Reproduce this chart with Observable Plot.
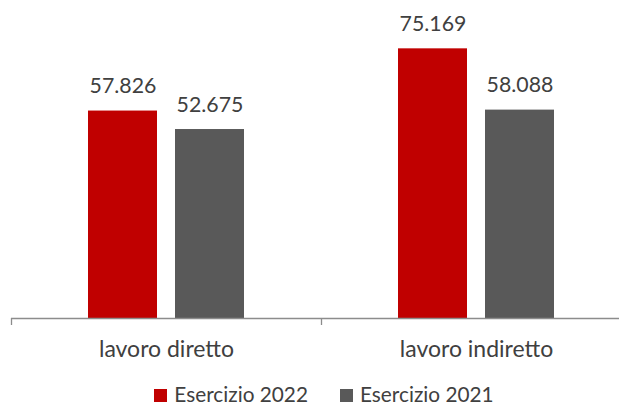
<!DOCTYPE html>
<html>
<head>
<meta charset="utf-8">
<script src="https://cdn.jsdelivr.net/npm/d3@7"></script>
<script src="https://cdn.jsdelivr.net/npm/@observablehq/plot@0.6"></script>
<style>
  html, body { margin: 0; padding: 0; background: #fff; overflow: hidden; }
  #chart { width: 619px; height: 375px; }
  #legend { display: flex; justify-content: center; align-items: center; height: 20px; line-height: 20px; margin-top: 9px; padding-left: 29px;
    width: 619px; box-sizing: border-box;
    font-family: Lato, "Noto Sans", sans-serif; font-size: 20.8px; color: #404040; }
  .item { display: flex; align-items: center; margin: 0 16px; }
  .sw { width: 13px; height: 13px; margin-right: 7px; margin-top: 2px; }
</style>
</head>
<body>
<div id="chart"></div>
<script>
const categories = ["lavoro diretto", "lavoro indiretto"];
const series = ["Esercizio 2022", "Esercizio 2021"];
const values2022 = [57826, 75169];
const values2021 = [52675, 58088];
const colors = ["#C00000", "#595959"];

const data = [];
categories.forEach((c, i) => {
  data.push({cat: c, ser: series[0], value: values2022[i]});
  data.push({cat: c, ser: series[1], value: values2021[i]});
});

const itFormat = d3.formatLocale({decimal: ",", thousands: ".", grouping: [3], currency: ["", "€"]}).format(",d");

const W = 619, H = 375;
const fxRange = [11, 631];
const bandW = (fxRange[1] - fxRange[0]) / categories.length;

const chart = Plot.plot({
  width: W,
  height: H,
  marginTop: 31,
  marginBottom: 57,
  marginLeft: 11,
  marginRight: 0,
  style: {fontFamily: "Lato, 'Noto Sans', sans-serif", fontSize: "21px", color: "#404040", background: "#fff"},
  fx: {domain: categories, range: fxRange, padding: 0, label: null, axis: null},
  x: {domain: series, paddingInner: 0.207, paddingOuter: 0.885, align: 0.5, axis: null},
  y: {domain: [0, 80000], axis: null},
  color: {domain: series, range: colors},
  marks: [
    Plot.barY(data, {fx: "cat", x: "ser", y: "value", fill: "ser"}),
    Plot.ruleY([0], {stroke: "#8c8c8c", strokeWidth: 1.3}),
    Plot.text(data, {fx: "cat", x: "ser", y: "value", text: d => itFormat(d.value), dy: -18, lineAnchor: "bottom", fill: "#404040", fontSize: 21.3}),
    Plot.axisFx({anchor: "bottom", tickSize: 7, tickFormat: () => "", dx: -bandW / 2, stroke: "#8c8c8c", strokeWidth: 1.3}),
    Plot.axisFx({anchor: "bottom", tickSize: 0, tickPadding: 22, label: null, fill: "#404040", fontSize: 23})
  ]
});
document.getElementById("chart").appendChild(chart);

const legend = document.createElement("div");
legend.id = "legend";
series.forEach((s, i) => {
  const it = document.createElement("div");
  it.className = "item";
  const sw = document.createElement("div");
  sw.className = "sw";
  sw.style.background = colors[i];
  it.appendChild(sw);
  it.appendChild(document.createTextNode(s));
  legend.appendChild(it);
});
document.body.appendChild(legend);
</script>
</body>
</html>
